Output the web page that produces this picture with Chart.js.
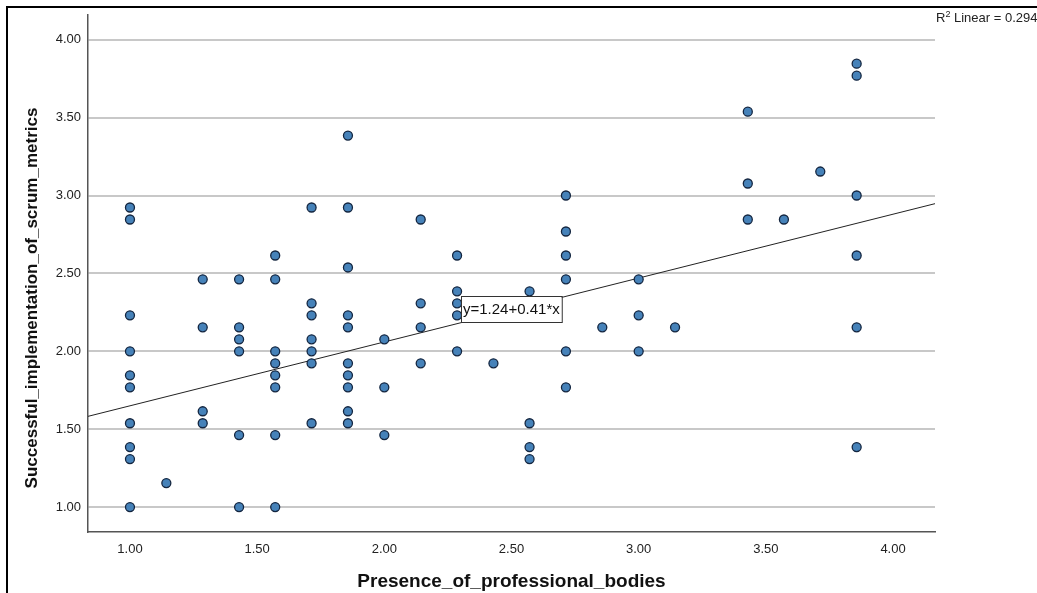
<!DOCTYPE html>
<html>
<head>
<meta charset="utf-8">
<script src="https://cdn.jsdelivr.net/npm/chart.js@4.4.1/dist/chart.umd.min.js"></script>
<style>
  html, body { margin: 0; padding: 0; background: #fff; }
  #wrap { width: 1037px; height: 593px; position: relative; }
</style>
</head>
<body>
<div id="wrap"><canvas id="c" width="1037" height="593"></canvas></div>
<script>
// ---- data ----
const xValues = [
  1.000,1.000,1.000,1.000,1.000,1.000,1.000,1.000,1.000,1.000,
  1.143,
  1.286,1.286,1.286,1.286,
  1.429,1.429,1.429,1.429,1.429,1.429,
  1.571,1.571,1.571,1.571,1.571,1.571,1.571,1.571,
  1.714,1.714,1.714,1.714,1.714,1.714,1.714,
  1.857,1.857,1.857,1.857,1.857,1.857,1.857,1.857,1.857,1.857,
  2.000,2.000,2.000,
  2.143,2.143,2.143,2.143,
  2.286,2.286,2.286,2.286,2.286,
  2.429,
  2.571,2.571,2.571,2.571,
  2.714,2.714,2.714,2.714,2.714,2.714,
  2.857,
  3.000,3.000,3.000,
  3.143,
  3.429,3.429,3.429,
  3.571,
  3.714,
  3.857,3.857,3.857,3.857,3.857,3.857
];
const yValues = [
  2.923,2.846,2.231,2.000,1.846,1.769,1.538,1.385,1.308,1.000,
  1.154,
  2.462,2.154,1.615,1.538,
  2.462,2.154,2.077,2.000,1.462,1.000,
  2.615,2.462,2.000,1.923,1.846,1.769,1.462,1.000,
  2.923,2.308,2.231,2.077,2.000,1.923,1.538,
  3.385,2.923,2.538,2.231,2.154,1.923,1.846,1.769,1.615,1.538,
  2.077,1.769,1.462,
  2.846,2.308,2.154,1.923,
  2.615,2.385,2.308,2.231,2.000,
  1.923,
  2.385,1.538,1.385,1.308,
  3.000,2.769,2.615,2.462,2.000,1.769,
  2.154,
  2.462,2.231,2.000,
  2.154,
  3.538,3.077,2.846,
  2.846,
  3.154,
  3.846,3.769,3.000,2.615,2.154,1.385
];
const xTicks = [1.0, 1.5, 2.0, 2.5, 3.0, 3.5, 4.0];
const yTicks = [1.0, 1.5, 2.0, 2.5, 3.0, 3.5, 4.0];
const xRange = [0.835, 4.165];
const yRange = [0.84, 4.16];
const fitIntercept = 1.24;
const fitSlope = 0.41;
const fitLabelX = 2.30;
const rSquared = '0.294';
const xTitle = 'Presence_of_professional_bodies';
const yTitle = 'Successful_implementation_of_scrum_metrics';

// ---- build datasets ----
const points = xValues.map((x, i) => ({ x: x, y: yValues[i] }));
const fitLine = xRange.map(x => ({ x: x, y: fitIntercept + fitSlope * x }));

const FONT = "Arial, 'Liberation Sans', sans-serif";

const decor = {
  id: 'decor',
  beforeDraw(chart) {
    const ctx = chart.ctx;
    ctx.save();
    ctx.fillStyle = '#ffffff';
    ctx.fillRect(0, 0, chart.width, chart.height);
    ctx.fillStyle = '#000000';
    ctx.fillRect(6, 6, chart.width - 6, 2);
    ctx.fillRect(6, 6, 2, chart.height - 6);
    ctx.restore();
  },
  afterDraw(chart) {
    const ctx = chart.ctx;
    const xs = chart.scales.x, ys = chart.scales.y;
    ctx.save();
    // y axis title
    ctx.translate(32, 298);
    ctx.rotate(-Math.PI / 2);
    ctx.font = "bold 17px " + FONT;
    ctx.fillStyle = '#111';
    ctx.textAlign = 'center';
    ctx.textBaseline = 'middle';
    ctx.fillText(yTitle, 0, 0);
    ctx.restore();

    // R² label
    ctx.save();
    ctx.fillStyle = '#222';
    ctx.textBaseline = 'alphabetic';
    ctx.textAlign = 'left';
    let x0 = chart.chartArea.right + 1;
    ctx.font = "13px " + FONT;
    ctx.fillText('R', x0, 22);
    x0 += ctx.measureText('R').width;
    ctx.font = "9px " + FONT;
    ctx.fillText('2', x0, 17);
    x0 += ctx.measureText('2').width;
    ctx.font = "13px " + FONT;
    ctx.fillText(' Linear = ' + rSquared, x0, 22);
    ctx.restore();

    // equation label box anchored on the fit line
    ctx.save();
    const label = 'y=' + fitIntercept.toFixed(2) + '+' + fitSlope.toFixed(2) + '*x';
    ctx.font = "15px " + FONT;
    const w = ctx.measureText(label).width + 4;
    const h = 26;
    const px = Math.round(xs.getPixelForValue(fitLabelX));
    const py = Math.round(ys.getPixelForValue(fitIntercept + fitSlope * fitLabelX)) - 1;
    ctx.fillStyle = '#fff';
    ctx.fillRect(px, py - h, w, h);
    ctx.strokeStyle = '#333';
    ctx.lineWidth = 1;
    ctx.strokeRect(px + 0.5, py - h + 0.5, w, h);
    ctx.fillStyle = '#111';
    ctx.textBaseline = 'middle';
    ctx.fillText(label, px + 2, py - h / 2 + 1);
    ctx.restore();
  }
};

new Chart(document.getElementById('c'), {
  type: 'scatter',
  data: {
    datasets: [
      {
        label: 'Observed',
        data: points,
        backgroundColor: '#4682b9',
        borderColor: '#142640',
        borderWidth: 1.3,
        pointRadius: 4.5,
        order: 1
      },
      {
        type: 'line',
        label: 'Fit line',
        data: fitLine,
        borderColor: '#222',
        borderWidth: 1,
        pointRadius: 0,
        fill: false,
        order: 2
      }
    ]
  },
  options: {
    responsive: false,
    animation: false,
    events: [],
    layout: { padding: { left: 0, top: 12, right: 102, bottom: 0 } },
    plugins: { legend: { display: false }, tooltip: { enabled: false } },
    scales: {
      x: {
        type: 'linear',
        min: xRange[0], max: xRange[1],
        afterBuildTicks: s => { s.ticks = xTicks.map(v => ({ value: v })); },
        afterFit: s => { s.height = 61; },
        grid: { display: false, drawTicks: false },
        border: { display: true, color: '#555', width: 1.5 },
        ticks: {
          padding: 10,
          color: '#222',
          font: { family: FONT, size: 13 },
          callback: v => Number(v).toFixed(2),
          maxRotation: 0
        },
        title: {
          display: true,
          text: xTitle,
          color: '#111',
          font: { family: FONT, size: 19, weight: 'bold' },
          padding: { top: 0, bottom: 0 }
        }
      },
      y: {
        type: 'linear',
        min: yRange[0], max: yRange[1],
        afterBuildTicks: s => { s.ticks = yTicks.map(v => ({ value: v })); },
        afterFit: s => { s.width = 88; },
        grid: { display: true, drawTicks: false, color: '#c8c8c8', lineWidth: 2 },
        border: { display: true, color: '#555', width: 1.5 },
        ticks: {
          padding: 7,
          color: '#222',
          font: { family: FONT, size: 13 },
          callback: v => Number(v).toFixed(2)
        }
      }
    }
  },
  plugins: [decor]
});
</script>
</body>
</html>
